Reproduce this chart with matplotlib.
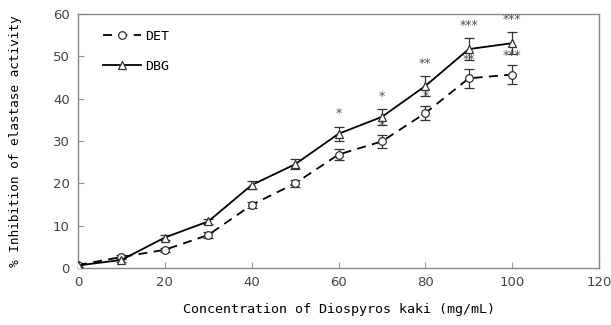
import matplotlib
matplotlib.use("Agg")
import matplotlib.pyplot as plt
from matplotlib.lines import Line2D

conc = [0, 10, 20, 30, 40, 50, 60, 70, 80, 90, 100]
det = [0.7, 2.6, 4.3, 7.8, 14.9, 20.0, 26.8, 29.9, 36.6, 44.8, 45.7]
det_err = [0.4, 0.5, 0.5, 0.6, 0.7, 0.9, 1.4, 1.6, 1.7, 2.2, 2.2]
dbg = [0.6, 1.9, 7.2, 11.0, 19.6, 24.5, 31.7, 35.7, 43.0, 51.7, 53.1]
dbg_err = [0.3, 0.4, 0.5, 0.6, 0.9, 1.2, 1.7, 1.9, 2.3, 2.6, 2.6]
det_sig = ["", "", "", "", "", "", "", "*", "*", "**", "***"]
dbg_sig = ["", "", "", "", "", "", "*", "*", "**", "***", "***"]

xticks = [0, 20, 40, 60, 80, 100, 120]
yticks = [0, 10, 20, 30, 40, 50, 60]

mono = "DejaVu Sans Mono"
fig = plt.figure(figsize=(6.11, 3.25), dpi=100)
ax = fig.add_axes([0.1277, 0.1754, 0.8527, 0.7816])

det_style = dict(color="black", ls=(0, (5, 3.5)), lw=1.3, marker="o", ms=5.5,
                 mfc="white", mec="#333333", mew=0.9)
dbg_style = dict(color="black", ls="-", lw=1.3, marker="^", ms=6,
                 mfc="white", mec="#333333", mew=0.9)
eb = dict(ecolor="#333333", elinewidth=0.9, capsize=3.5, capthick=0.9, zorder=3)

ax.errorbar(conc, det, yerr=det_err, **det_style, **eb)
ax.errorbar(conc, dbg, yerr=dbg_err, **dbg_style, **eb)

for x, y, e, s in zip(conc, dbg, dbg_err, dbg_sig):
    if s:
        ax.text(x, y + e + 3.0, s, ha="center", va="center",
                fontsize=9, color="#555555", zorder=6)
for x, y, e, s in zip(conc, det, det_err, det_sig):
    if s:
        ax.text(x, y + e + 2.2, s, ha="center", va="center",
                fontsize=9, color="#555555", zorder=6)

ax.set_xlim(0, 120)
ax.set_ylim(0, 60)
ax.set_xticks(xticks)
ax.set_yticks(yticks)
ax.tick_params(direction="in", length=4, color="#999999", labelsize=9.5,
               labelcolor="#444444", pad=6)
for sp in ax.spines.values():
    sp.set_color("#888888")
    sp.set_linewidth(1.0)

ax.set_xlabel("Concentration of Diospyros kaki (mg/mL)", family=mono,
              fontsize=9.6, labelpad=10)
ax.set_ylabel("% Inhibition of elastase activity", family=mono,
              fontsize=9.2, labelpad=22)

handles = [Line2D([], [], **det_style), Line2D([], [], **dbg_style)]
ax.legend(handles, ["DET", "DBG"], loc="upper left",
          bbox_to_anchor=(0.025, 0.985), frameon=False,
          handlelength=2.9, labelspacing=1.3, handletextpad=0.3,
          prop={"family": mono, "size": 9.5})

fig.savefig("out.png", dpi=100)
